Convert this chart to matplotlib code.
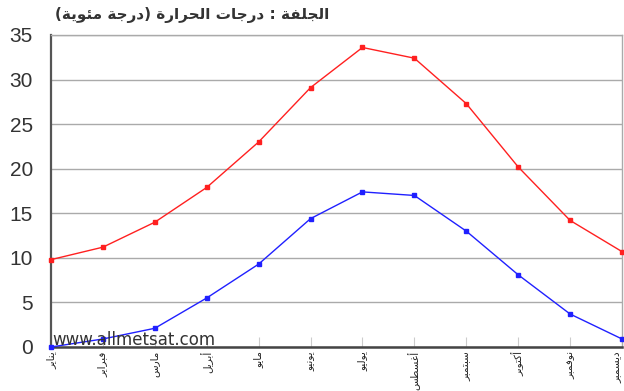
import matplotlib
matplotlib.use("Agg")
import matplotlib.pyplot as plt

months = ["يناير", "فبراير", "مارس", "أبريل", "مايو", "يونيو",
          "يوليو", "أغسطس", "سبتمبر", "أكتوبر", "نوفمبر", "ديسمبر"]
tmax = [9.8, 11.2, 14.0, 17.9, 23.0, 29.1, 33.6, 32.4, 27.3, 20.2, 14.2, 10.7]
tmin = [0.0, 0.9, 2.1, 5.5, 9.3, 14.4, 17.4, 17.0, 13.0, 8.1, 3.7, 0.9]
yticks = [0, 5, 10, 15, 20, 25, 30, 35]
title = "الجلفة : درجات الحرارة (درجة مئوية)"
watermark = "www.allmetsat.com"

# --- minimal Arabic shaping (contextual forms + visual order) ---
FORMS = {  # isolated, final, initial, medial
    "\u0627": (0xFE8D, 0xFE8E, None, None),
    "\u0623": (0xFE83, 0xFE84, None, None),
    "\u0628": (0xFE8F, 0xFE90, 0xFE91, 0xFE92),
    "\u0629": (0xFE93, 0xFE94, None, None),
    "\u062A": (0xFE95, 0xFE96, 0xFE97, 0xFE98),
    "\u062C": (0xFE9D, 0xFE9E, 0xFE9F, 0xFEA0),
    "\u062D": (0xFEA1, 0xFEA2, 0xFEA3, 0xFEA4),
    "\u062F": (0xFEA9, 0xFEAA, None, None),
    "\u0631": (0xFEAD, 0xFEAE, None, None),
    "\u0633": (0xFEB1, 0xFEB2, 0xFEB3, 0xFEB4),
    "\u0637": (0xFEC1, 0xFEC2, 0xFEC3, 0xFEC4),
    "\u063A": (0xFECD, 0xFECE, 0xFECF, 0xFED0),
    "\u0641": (0xFED1, 0xFED2, 0xFED3, 0xFED4),
    "\u0643": (0xFED9, 0xFEDA, 0xFEDB, 0xFEDC),
    "\u0644": (0xFEDD, 0xFEDE, 0xFEDF, 0xFEE0),
    "\u0645": (0xFEE1, 0xFEE2, 0xFEE3, 0xFEE4),
    "\u0646": (0xFEE5, 0xFEE6, 0xFEE7, 0xFEE8),
    "\u0648": (0xFEED, 0xFEEE, None, None),
    "\u064A": (0xFEF1, 0xFEF2, 0xFEF3, 0xFEF4),
    "\u0626": (0xFE89, 0xFE8A, 0xFE8B, 0xFE8C),
}


def shape(s):
    out = []
    n = len(s)
    for i, c in enumerate(s):
        if c not in FORMS:
            out.append(c)
            continue
        prev = s[i - 1] if i > 0 else ""
        nxt = s[i + 1] if i + 1 < n else ""
        join_prev = prev in FORMS and FORMS[prev][2] is not None
        join_next = nxt in FORMS and FORMS[c][2] is not None
        iso, fin, ini, med = FORMS[c]
        if join_prev and join_next:
            code = med
        elif join_prev:
            code = fin
        elif join_next:
            code = ini
        else:
            code = iso
        out.append(chr(code))
    vis = "".join(reversed(out))
    return vis.translate(str.maketrans("()", ")("))


fig = plt.figure(figsize=(6.24, 3.91), dpi=100)
ax = fig.add_axes([51 / 624, 1 - 347 / 391, (622 - 51) / 624, (347 - 35) / 391])

x = list(range(len(months)))
ax.plot(x, tmax, color="#ff2020", lw=1.0, marker="s", ms=3.4, clip_on=False, zorder=3)
ax.plot(x, tmin, color="#2020ff", lw=1.0, marker="s", ms=3.4, clip_on=False, zorder=3)

ax.set_xlim(0, len(months) - 1)
ax.set_ylim(0, 35)
ax.set_yticks(yticks)
ax.set_yticklabels([str(v) for v in yticks], fontsize=15, color="#333333",
                   family="Liberation Sans")
ax.tick_params(axis="y", length=0, pad=13)
ax.yaxis.grid(True, color="#aaaaaa", lw=1.0)
ax.set_axisbelow(True)

ax.set_xticks(x)
ax.set_xticklabels([shape(m) for m in months], rotation=90, fontsize=7.5,
                   family="DejaVu Sans", color="#222222", va="top", ha="center")
ax.get_xticklabels()[-1].set_ha("right")
ax.tick_params(axis="x", direction="in", length=7, color="#cccccc", pad=3)

for side in ["top", "right"]:
    ax.spines[side].set_color("#aaaaaa")
    ax.spines[side].set_linewidth(1.0)
ax.spines["left"].set_color("#555555")
ax.spines["left"].set_linewidth(1.6)
ax.spines["bottom"].set_color("#444444")
ax.spines["bottom"].set_linewidth(1.8)

ax.text(0.002, 0.007, watermark, transform=ax.transAxes, fontsize=12,
        family="DejaVu Sans", color="#333333", ha="left", va="baseline", zorder=4)

fig.text(192 / 624, 1 - 15 / 391, shape(title), fontsize=11, family="DejaVu Sans",
         fontweight="bold", color="#333333", ha="center", va="center")

fig.savefig("out.png", dpi=100)
